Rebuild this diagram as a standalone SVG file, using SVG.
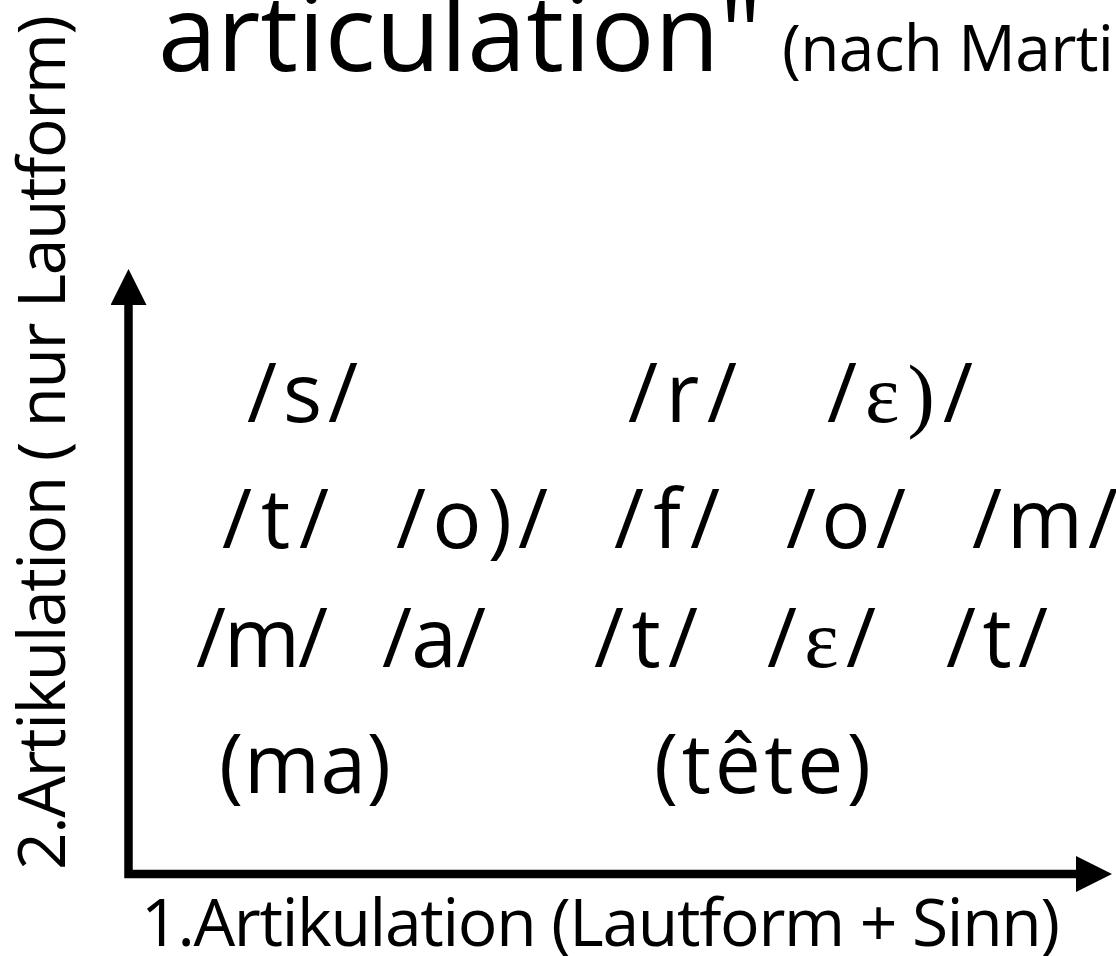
<svg xmlns="http://www.w3.org/2000/svg" width="1116" height="956" viewBox="0 0 1116 956">
<style>
text{font-family:"Open Sans","Noto Sans","DejaVu Sans",sans-serif;fill:#000}
.title{font-size:106px}
.sub{font-size:64px}
.axis{font-size:66px}
.ph{font-size:82px}
.ser{font-family:"Liberation Serif","DejaVu Serif",serif}
.ax{fill:none;stroke:#000;stroke-width:8.5;stroke-linejoin:miter}
</style>
<defs>
<marker id="arr" markerUnits="userSpaceOnUse" markerWidth="36" markerHeight="36" viewBox="0 0 36 36" refX="0" refY="18" orient="auto-start-reverse">
<path d="M0,0 L36,18 L0,36 z" fill="#000"/>
</marker>
</defs>
<rect width="1116" height="956" fill="#fff"/>
<g id="title">
<text class="title" x="158" y="71">articulation"</text>
<text class="sub" x="782" y="71" textLength="332">(nach Marti</text>
</g>
<g id="connectors">
<path class="ax" d="M128.5,305 L128.5,874 L1076,874" marker-start="url(#arr)" marker-end="url(#arr)"/>
</g>
<g id="label-y">
<text class="axis" transform="translate(65,870) rotate(-90)" x="0" y="0" textLength="855">2.Artikulation ( nur Lautform)</text>
</g>
<g id="label-x">
<text class="axis" x="141" y="946" textLength="919">1.Artikulation (Lautform + Sinn)</text>
</g>
<g id="row1">
<g id="p-s"><text class="ph" x="247" y="422" textLength="111">/s/</text></g>
<g id="p-r"><text class="ph" x="628" y="422" textLength="109">/r/</text></g>
<g id="p-e1"><text class="ph" x="827" y="422" textLength="146">/<tspan class="ser">ε)</tspan>/</text></g>
</g>
<g id="row2">
<g id="p-t1"><text class="ph" x="222" y="548" textLength="107">/t/</text></g>
<g id="p-o1"><text class="ph" x="396" y="548" textLength="152">/o)/</text></g>
<g id="p-f"><text class="ph" x="614" y="548" textLength="106">/f/</text></g>
<g id="p-o2"><text class="ph" x="786" y="548" textLength="120">/o/</text></g>
<g id="p-m1"><text class="ph" x="972" y="548" textLength="146">/m/</text></g>
</g>
<g id="row3">
<g id="p-m2"><text class="ph" x="196" y="667" textLength="132">/m/</text></g>
<g id="p-a"><text class="ph" x="382" y="667" textLength="104">/a/</text></g>
<g id="p-t2"><text class="ph" x="594" y="667" textLength="104">/t/</text></g>
<g id="p-e2"><text class="ph" x="767" y="667" textLength="109">/<tspan class="ser">ε</tspan>/</text></g>
<g id="p-t3"><text class="ph" x="946" y="667" textLength="102">/t/</text></g>
</g>
<g id="row4">
<g id="w-ma"><text class="ph" x="219" y="793" textLength="172">(ma)</text></g>
<g id="w-tete"><text class="ph" x="654" y="793" textLength="217">(tête)</text></g>
</g>
</svg>
